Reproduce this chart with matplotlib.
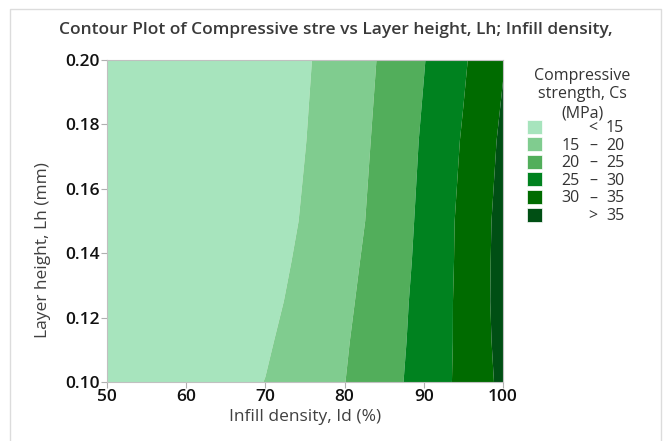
import numpy as np
import matplotlib
matplotlib.use("Agg")
import matplotlib.pyplot as plt
from matplotlib.patches import Rectangle

# ---- data ----
infill_density = [50, 55, 60, 65, 70, 75, 80, 85, 90, 95, 100]          # Id (%)
layer_height = [0.10, 0.1125, 0.125, 0.1375, 0.15, 0.175, 0.20]           # Lh (mm)
cs_lh_0100 = [11.86, 11.85, 12.39, 13.46, 15.08, 17.23, 19.93, 23.16, 26.93, 31.25, 36.11]
cs_lh_0112 = [11.4, 11.4, 11.9, 12.9, 14.45, 17.03, 19.58, 22.8, 26.7, 31.2, 36.54]
cs_lh_0125 = [10.9, 10.9, 11.4, 12.4, 13.7, 16.5, 19.19, 22.3, 26.64, 31.2, 36.8]
cs_lh_0138 = [10.4, 10.45, 11.0, 11.85, 13.1, 15.98, 18.73, 22.0, 26.3, 31.15, 36.74]
cs_lh_0150 = [9.9, 10.0, 10.6, 11.3, 12.5, 15.48, 18.45, 21.43, 26.15, 31.09, 36.6]
cs_lh_0175 = [8.9, 9.1, 9.8, 11.0, 12.8, 14.89, 17.96, 21.05, 25.58, 30.43, 35.88]
cs_lh_0200 = [7.8, 8.1, 8.9, 10.2, 12.1, 14.46, 17.53, 20.6, 24.81, 29.42, 34.68]
levels = [15, 20, 25, 30, 35]
x_ticks = [50, 60, 70, 80, 90, 100]
y_ticks = [0.10, 0.12, 0.14, 0.16, 0.18, 0.20]

colors = ['#a7e4bd', '#80cc8f', '#52ae5b', '#00821f', '#006b00', '#004f14']

plt.rcParams['font.family'] = ['Open Sans', 'DejaVu Sans']

W, H = 671, 441
fig = plt.figure(figsize=(W / 100, H / 100), dpi=100)

# outer frame
fig.patches.append(Rectangle((10 / W, -0.05), (661 - 10) / W, 1 - 9 / H + 0.05,
                             transform=fig.transFigure, fill=False,
                             edgecolor='#dcdcdc', linewidth=1.0))

ax = fig.add_axes([107 / W, 1 - 382 / H, (503 - 107) / W, (382 - 60) / H])

Z = np.array([cs_lh_0100, cs_lh_0112, cs_lh_0125, cs_lh_0138,
              cs_lh_0150, cs_lh_0175, cs_lh_0200])
X, Y = np.meshgrid(infill_density, layer_height)
bounds = [-1e9] + levels + [1e9]
ax.contourf(X, Y, Z, levels=bounds, colors=colors, antialiased=True)

ax.set_xlim(50, 100)
ax.set_ylim(0.10, 0.20)
ax.set_xticks(x_ticks)
ax.set_yticks(y_ticks)
ax.set_xticklabels([f"{v}" for v in x_ticks])
ax.set_yticklabels([f"{v:.2f}" for v in y_ticks])
ax.tick_params(axis='both', direction='out', length=4, width=0.8, color='#b0b0b0',
               labelsize=12.5, labelcolor='#111111', pad=1)
for lab in ax.get_xticklabels() + ax.get_yticklabels():
    lab.set_fontweight('semibold')
for s in ax.spines.values():
    s.set_color('#c0c0c0')
    s.set_linewidth(0.8)

fig.text(0.5, 1 - 30 / H,
         "Contour Plot of Compressive stre vs Layer height, Lh; Infill density,",
         ha='center', va='center', fontsize=12.5, color='#3a3a3a', fontweight='semibold')
fig.text(305 / W, 1 - 417 / H, "Infill density, Id (%)", ha='center', va='center',
         fontsize=12.5, color='#404040')
fig.text(43 / W, 1 - 250 / H, "Layer height, Lh (mm)", ha='center', va='center',
         rotation=90, fontsize=12.5, color='#404040')

# legend
for j, line in enumerate(["Compressive", "strength, Cs", "(MPa)"]):
    fig.text(582 / W, 1 - (76 + 18.5 * j) / H, line, ha='center', va='center',
             fontsize=11.5, color='#333333')
labels = [("", "<", f"{levels[0]}")]
for lo, hi in zip(levels[:-1], levels[1:]):
    labels.append((f"{lo}", "–", f"{hi}"))
labels.append(("", ">", f"{levels[-1]}"))
for i, (c, (a, b, d)) in enumerate(zip(colors, labels)):
    yc = 126.5 + i * 17.6
    fig.patches.append(Rectangle((527 / W, 1 - (yc + 7) / H), 15 / W, 14 / H,
                                 transform=fig.transFigure, facecolor=c,
                                 edgecolor='white', linewidth=0.5))
    kw = dict(va='baseline', fontsize=11.5, color='#333333')
    yb = 1 - (yc + 5.5) / H
    fig.text(580 / W, yb, a, ha='right', **kw)
    fig.text(593 / W, yb, b, ha='center', **kw)
    fig.text(606 / W, yb, d, ha='left', **kw)

fig.savefig("out.png", dpi=100)
